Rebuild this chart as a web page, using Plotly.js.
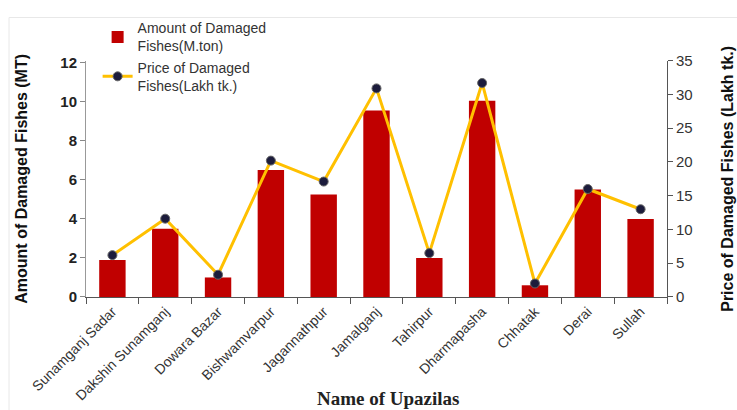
<!DOCTYPE html>
<html>
<head>
<meta charset="utf-8">
<script src="https://cdn.plot.ly/plotly-3.0.1.min.js"></script>
<style>html,body{margin:0;padding:0;background:#fff;}#chart{width:737px;height:410px;}</style>
</head>
<body>
<div id="chart"></div>
<script>
const upazilas = ["Sunamganj Sadar","Dakshin Sunamganj","Dowara Bazar","Bishwamvarpur","Jagannathpur","Jamalganj","Tahirpur","Dharmapasha","Chhatak","Derai","Sullah"];
const amountMT = [1.9, 3.5, 1.0, 6.5, 5.25, 9.55, 2.0, 10.05, 0.6, 5.5, 4.0];
const priceLakh = [6.2, 11.6, 3.3, 20.2, 17.1, 30.9, 6.5, 31.7, 2.0, 16.0, 13.0];
const leftTicks = [0, 2, 4, 6, 8, 10, 12];
const rightTicks = [0, 5, 10, 15, 20, 25, 30, 35];

const FONT = "Arial, 'Liberation Sans', sans-serif";

const traces = [
  {
    type: "bar", x: upazilas, y: amountMT, name: "Amount of Damaged<br>Fishes(M.ton)",
    marker: {color: "#C00000"}, width: 0.5, yaxis: "y"
  },
  {
    type: "scatter", mode: "lines+markers", x: upazilas, y: priceLakh, yaxis: "y2",
    name: "Price of Damaged<br>Fishes(Lakh tk.)",
    line: {color: "#FFC000", width: 3},
    marker: {color: "#1c1c3c", size: 9, line: {color: "#666", width: 1}}
  }
];

const layout = {
  width: 737, height: 410,
  margin: {l: 86, r: 70, t: 40, b: 113},
  paper_bgcolor: "#fff", plot_bgcolor: "#fff",
  font: {family: FONT, color: "#333"},
  showlegend: true,
  legend: {x: 0.02, y: 1.13, xanchor: "left", yanchor: "top", bgcolor: "rgba(0,0,0,0)",
           font: {size: 14, color: "#333", family: FONT}, tracegroupgap: 0, itemwidth: 30},
  xaxis: {
    type: "category", range: [-0.5, 10.5], tickangle: -45, tickson: "boundaries", ticks: "outside", ticklen: 6,
    tickcolor: "#555", showline: true, linecolor: "#555", linewidth: 1, showgrid: false,
    tickfont: {size: 14, color: "#333", family: FONT}, automargin: false
  },
  yaxis: {
    domain: [0, 0.9377],
    range: [0, 12.1], tickvals: leftTicks, ticks: "outside", ticklen: 5, tickcolor: "#888",
    showline: true, linecolor: "#999", showgrid: false, zeroline: false,
    tickfont: {size: 15, color: "#222", family: FONT, weight: "bold"},
    title: {text: "Amount of Damaged Fishes (MT)", font: {size: 16, color: "#111", family: FONT, weight: "bold"}, standoff: 28},
    automargin: false
  },
  yaxis2: {
    domain: [0, 0.9377],
    range: [0, 35], tickvals: rightTicks, overlaying: "y", side: "right",
    ticks: "outside", ticklen: 5, tickcolor: "#555", showline: true, linecolor: "#555",
    showgrid: false, zeroline: false,
    tickfont: {size: 15, color: "#333", family: FONT},
    title: {text: "Price of Damaged Fishes (Lakh tk.)", font: {size: 16, color: "#111", family: FONT, weight: "bold"}, standoff: 30},
    automargin: false
  },
  annotations: [
    {text: "<b>Name of Upazilas</b>", xref: "paper", yref: "paper", x: 0.52, y: -0.401,
     xanchor: "center", yanchor: "middle", showarrow: false,
     font: {family: "'Times New Roman', 'Liberation Serif', serif", size: 19, color: "#222"}}
  ],
  shapes: [
    {type: "rect", xref: "paper", yref: "paper", x0: -0.1325, x1: 1.3, y0: -0.6, y1: 1.109,
     line: {color: "#e8e8e8", width: 1}, fillcolor: "rgba(0,0,0,0)", layer: "below"}
  ]
};

Plotly.newPlot("chart", traces, layout, {displayModeBar: false, staticPlot: true});
</script>
</body>
</html>
